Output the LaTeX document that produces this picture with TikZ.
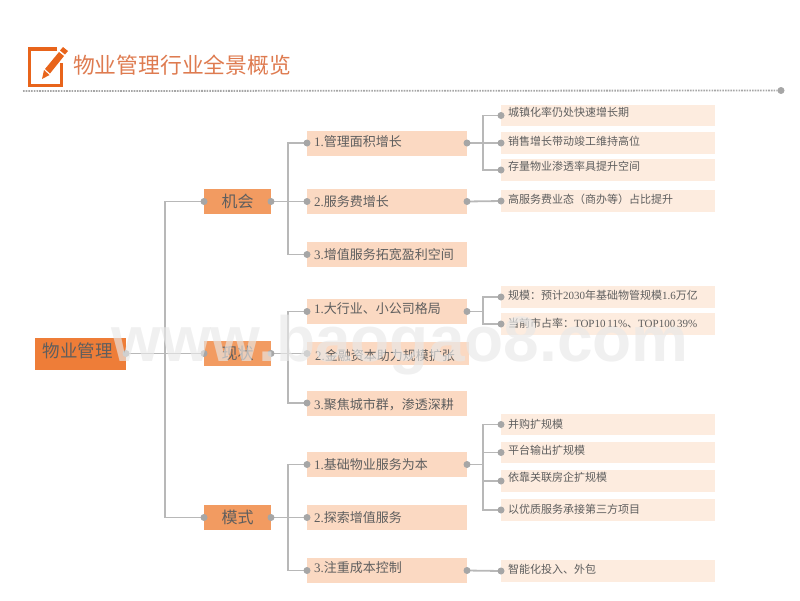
\documentclass[tikz,border=0pt]{standalone}
\usepackage{fontspec}
\setmainfont{Noto Sans CJK SC}
\newfontfamily\latin{Liberation Serif}
\newfontfamily\markfont{Liberation Sans}
\usepackage{tikz}
\definecolor{rootfill}{HTML}{EE7D38}
\definecolor{catfill}{HTML}{F29B61}
\definecolor{subfill}{HTML}{FBD9C2}
\definecolor{leaffill}{HTML}{FDECDF}
\definecolor{linkgray}{HTML}{B8B8B8}
\definecolor{dotgray}{HTML}{A6A6A6}
\definecolor{textgray}{HTML}{5E5E5E}
\definecolor{titleorange}{HTML}{DE7B50}
\definecolor{iconorange}{HTML}{E8641B}

\begin{document}
\begin{tikzpicture}[x=1pt,y=-1pt,
        every node/.style={inner sep=0pt,outer sep=0pt},
        rootbox/.style={anchor=west,fill=rootfill,minimum width=91pt,minimum height=32pt,
            text=textgray,font=\fontsize{17.5}{20}\selectfont,text depth=7pt,align=left,text width=76pt},
        catbox/.style={anchor=west,fill=catfill,minimum width=67pt,minimum height=25pt,
            text=textgray,font=\fontsize{16}{18}\selectfont},
        subbox/.style={anchor=west,fill=subfill,minimum width=160pt,minimum height=25pt,
            text=textgray,font=\fontsize{13}{15}\selectfont,align=left,text width=146pt},
        leafbox/.style={anchor=west,fill=leaffill,minimum width=214pt,minimum height=21.5pt,
            text=textgray,font=\fontsize{11}{13}\selectfont,align=left,text width=200pt,
            text height=8pt,text depth=4pt},
        link/.style={draw=linkgray,line width=1.8pt},
        dot/.style={circle,fill=dotgray,minimum size=7pt}
    ]
    \useasboundingbox (0,0) rectangle (800,600);

    % title
    \draw[iconorange,line width=3.4pt] (57,49) -- (29.7,49) -- (29.7,85.3) -- (61.3,85.3) -- (61.3,63);
    \fill[iconorange] (42,79) -- (44,70) -- (49.5,75) -- cycle;
    \fill[iconorange] (45,69) -- (50,73.5) -- (64,56) -- (59,52) -- cycle;
    \fill[iconorange] (60,50.5) -- (65,54.5) -- (68,51) -- (63,47) -- cycle;
    \node[anchor=west,text=titleorange,font=\fontsize{21.8}{24}\selectfont] (title) at (73,65) {物业管理行业全景概览};
    \coordinate (rulestart) at (23,91);
    \node[dot] (ruleend) at (781,90.5) {};
    \draw[dotgray,line width=1.8pt,dash pattern=on 1.6pt off 1.1pt] (rulestart) -- (ruleend);

    % boxes
    \node[rootbox] (root) at (35,353.5) {物业管理};

    \node[catbox] (cat1) at (204,201.5) {机会};
    \node[catbox] (cat2) at (204,353.5) {现状};
    \node[catbox] (cat3) at (204,517.5) {模式};

    \node[subbox,text depth=4pt] (sub11) at (307,143) {{\latin 1.}管理面积增长};
    \node[subbox] (sub12) at (307,201.5) {{\latin 2.}服务费增长};
    \node[subbox] (sub13) at (307,254.5) {{\latin 3.}增值服务拓宽盈利空间};
    \node[subbox,text depth=6pt] (sub21) at (307,311.5) {{\latin 1.}大行业、小公司格局};
    \node[subbox,minimum width=162pt,minimum height=23.5pt,text height=15pt] (sub22) at (307,353.5) {{\latin 2.}金融资本助力规模扩张};
    \node[subbox,text height=14pt] (sub23) at (307,403) {{\latin 3.}聚焦城市群，渗透深耕};
    \node[subbox] (sub31) at (307,464.5) {{\latin 1.}基础物业服务为本};
    \node[subbox] (sub32) at (307,517.5) {{\latin 2.}探索增值服务};
    \node[subbox,text depth=6pt] (sub33) at (307,570.5) {{\latin 3.}注重成本控制};

    \node[leafbox,text depth=6pt] (leaf1) at (501,115.5) {城镇化率仍处快速增长期};
    \node[leafbox] (leaf2) at (501,143) {销售增长带动竣工维持高位};
    \node[leafbox,text depth=7pt] (leaf3) at (501,170) {存量物业渗透率具提升空间};
    \node[leafbox] (leaf4) at (501,201) {高服务费业态（商办等）占比提升};
    \node[leafbox] (leaf5) at (501,297) {规模：预计{\latin 2030}年基础物管规模{\latin 1.6}万亿};
    \node[leafbox,text depth=2pt] (leaf6) at (501,324) {当前市占率：{\latin TOP10\,11\%}、{\latin TOP100\,39\%}};
    \node[leafbox,text depth=1pt] (leaf7) at (501,424.5) {并购扩规模};
    \node[leafbox] (leaf8) at (501,452.5) {平台输出扩规模};
    \node[leafbox,text depth=7pt] (leaf9) at (501,481) {依靠关联房企扩规模};
    \node[leafbox,text depth=1pt] (leaf10) at (501,510) {以优质服务承接第三方项目};
    \node[leafbox] (leaf11) at (501,571) {智能化投入、外包};

    % connectors
    \coordinate (spine) at (165,353.5);
    \coordinate (spine1) at (288,201.5);
    \coordinate (spine2) at (288,353.5);
    \coordinate (spine3) at (288,517.5);
    \coordinate (spine11) at (483,143);
    \coordinate (spine21) at (483,311.5);
    \coordinate (spine31) at (483,464.5);

    \draw[link] (root.east) -- (cat2.west);
    \draw[link] (cat1.west) -| (spine) |- (cat3.west);
    \draw[link] (cat1.east) -- (sub12.west);
    \draw[link] (sub11.west) -| (spine1) |- (sub13.west);
    \draw[link] (cat2.east) -- (sub22.west);
    \draw[link] (sub21.west) -| (spine2) |- (sub23.west);
    \draw[link] (cat3.east) -- (sub32.west);
    \draw[link] (sub31.west) -| (spine3) |- (sub33.west);

    \draw[link] (sub11.east) -- (leaf2.west);
    \draw[link] (leaf1.west) -| (spine11) |- (leaf3.west);
    \draw[link] (sub12.east) -- (leaf4.west);
    \draw[link] (sub21.east) -- (spine21);
    \draw[link] (leaf5.west) -| (spine21) |- (leaf6.west);
    \draw[link] (sub31.east) -- (spine31);
    \draw[link] (leaf7.west) -| (spine31) |- (leaf10.west);
    \draw[link] (leaf8.west) -- (leaf8.west -| spine31);
    \draw[link] (leaf9.west) -- (leaf9.west -| spine31);
    \draw[link] (sub33.east) -- (leaf11.west);

    % dots
    \foreach \n in {cat1,cat2,cat3,sub11,sub12,sub13,sub21,sub22,sub23,sub31,sub32,sub33,
            leaf1,leaf2,leaf3,leaf4,leaf5,leaf6,leaf7,leaf8,leaf9,leaf10,leaf11}
        \node[dot] at (\n.west) {};
    \foreach \n in {root,cat1,cat2,cat3,sub11,sub12,sub21,sub31,sub33}
        \node[dot] at (\n.east) {};

    % watermark
    \node[anchor=base,text=black!9,text opacity=.65,font=\markfont\bfseries\fontsize{64}{64}\selectfont] (stamp) at (400,361) {www.baogao8.com};
\end{tikzpicture}
\end{document}
